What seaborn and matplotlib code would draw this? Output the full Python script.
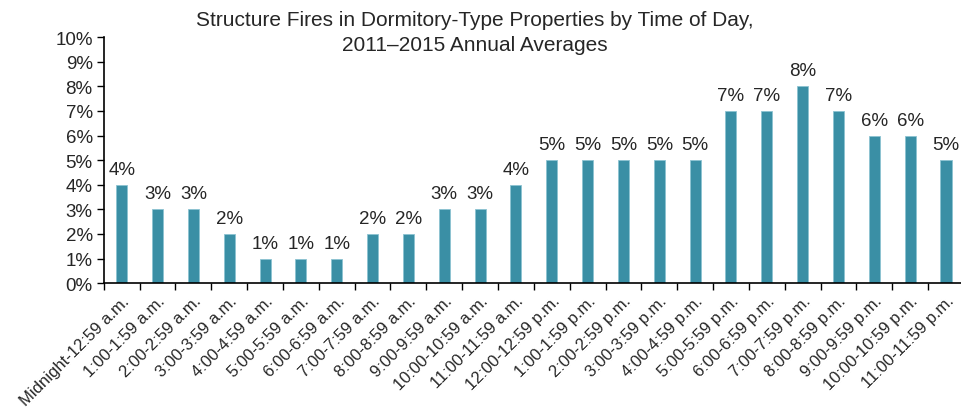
import matplotlib
matplotlib.use("Agg")
import matplotlib.pyplot as plt
import pandas as pd
import seaborn as sns
import numpy as np

hours = ["Midnight-12:59 a.m.", "1:00-1:59 a.m.", "2:00-2:59 a.m.", "3:00-3:59 a.m.",
         "4:00-4:59 a.m.", "5:00-5:59 a.m.", "6:00-6:59 a.m.", "7:00-7:59 a.m.",
         "8:00-8:59 a.m.", "9:00-9:59 a.m.", "10:00-10:59 a.m.", "11:00-11:59 a.m.",
         "12:00-12:59 p.m.", "1:00-1:59 p.m.", "2:00-2:59 p.m.", "3:00-3:59 p.m.",
         "4:00-4:59 p.m.", "5:00-5:59 p.m.", "6:00-6:59 p.m.", "7:00-7:59 p.m.",
         "8:00-8:59 p.m.", "9:00-9:59 p.m.", "10:00-10:59 p.m.", "11:00-11:59 p.m."]
share = [4, 3, 3, 2, 1, 1, 1, 2, 2, 3, 3, 4, 5, 5, 5, 5, 5, 7, 7, 8, 7, 6, 6, 5]
yticks = list(range(0, 11))

df = pd.DataFrame({"hour": hours, "share": share})

sns.set_style("white")
plt.rcParams["font.family"] = ["Liberation Sans", "DejaVu Sans"]

fig = plt.figure(figsize=(9.61, 4.10), dpi=100)
ax = fig.add_axes([0.108, 0.307, 0.895, 0.600])

sns.barplot(data=df, x="hour", y="share", color="#3A8FA5", width=0.31,
            edgecolor="#8CC3D2", linewidth=0.6, saturation=1, ax=ax)

ax.bar_label(ax.containers[0], labels=[f"{v}%" for v in share], padding=5, fontsize=13.5)

ax.set_xlim(-0.5, len(hours) - 0.5)
ax.set_ylim(0, 10)
ax.set_yticks(yticks)
ax.set_yticklabels([f"{t}%" for t in yticks], fontsize=13.5)
ax.tick_params(axis="y", direction="out", length=5, width=1, color="black", left=True, pad=3)

ax.set_xticks(np.arange(len(hours)))
ax.set_xticklabels(hours, rotation=45, ha="right", rotation_mode="anchor", fontsize=12)
ax.tick_params(axis="x", which="major", length=0, pad=7)
ax.set_xticks(np.arange(len(hours) + 1) - 0.5, minor=True)
ax.tick_params(axis="x", which="minor", direction="out", length=5, width=1, color="black", bottom=True)

for s in ["top", "right"]:
    ax.spines[s].set_visible(False)
for s in ["left", "bottom"]:
    ax.spines[s].set_color("black")
    ax.spines[s].set_linewidth(1.2)

ax.set_xlabel("")
ax.set_ylabel("")
fig.text(0.494, 0.973, "Structure Fires in Dormitory-Type Properties by Time of Day,\n2011\u20132015 Annual Averages",
         fontsize=15, ha="center", va="top", linespacing=1.4, multialignment="center")

fig.savefig("out.png", dpi=100)
